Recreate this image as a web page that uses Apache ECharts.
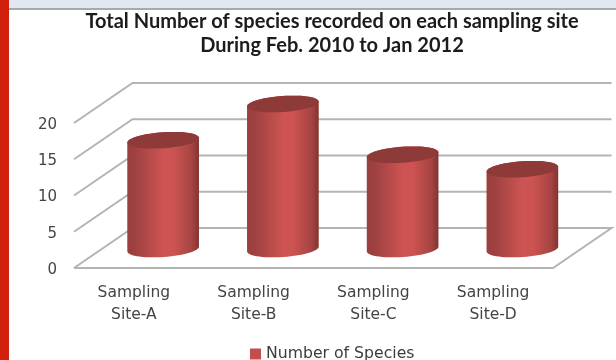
<!DOCTYPE html>
<html>
<head>
<meta charset="utf-8">
<style>html,body{margin:0;padding:0;background:#fff}#chart{width:616px;height:360px}</style>
<script src="https://cdn.jsdelivr.net/npm/echarts@6/dist/echarts.min.js"></script>
</head>
<body>
<div id="chart"></div>
<script>
// Species counts per sampling site
var categories = ['Sampling\nSite-A', 'Sampling\nSite-B', 'Sampling\nSite-C', 'Sampling\nSite-D'];
var speciesCounts = [15, 20, 13, 11];
var gridLevels = [0, 5, 10, 15, 20];
var seriesName = 'Number of Species';
var titleLines = 'Total Number of species recorded on each sampling site\nDuring Feb. 2010 to Jan 2012';

// Oblique projection of the chart box: depth shift of the back wall
var DEPTH_X = 58.5, DEPTH_Y = -40;
var LINE = '#b4b4b4';

// Points of a tilted ellipse between two angles
function ellipseArc(cx, cy, rx, ry, tilt, from, to, n) {
  var pts = [];
  for (var i = 0; i <= n; i++) {
    var a = from + (to - from) * i / n;
    var ex = rx * Math.cos(a), ey = ry * Math.sin(a);
    pts.push([cx + ex * Math.cos(tilt) - ey * Math.sin(tilt),
              cy + ex * Math.sin(tilt) + ey * Math.cos(tilt)]);
  }
  return pts;
}

// Wall and floor lines for one value level
function renderLevel(params, api) {
  var v = api.value(1);
  var g = params.coordSys;
  var y = api.coord([0, v])[1];
  var x0 = g.x, x1 = g.x + g.width;
  var pts = [[x0, y], [x0 + DEPTH_X, y + DEPTH_Y], [x1 + DEPTH_X, y + DEPTH_Y]];
  if (v === 0) pts.push([x1, y], [x0, y]);
  return { type: 'polyline', shape: { points: pts }, style: { stroke: LINE, lineWidth: 2, fill: null } };
}

// One cylinder standing about half way into the depth of the box
function renderCylinder(params, api) {
  var base = api.coord([api.value(0), 0]);
  var top = api.coord([api.value(0), api.value(1)]);
  var bandWidth = api.size([1, 0])[0];
  var rx = bandWidth * 0.3, ry = 8;
  var tilt = -0.07;
  var cx = base[0] + DEPTH_X / 2;
  var by = base[1] + DEPTH_Y * 0.475;
  var ty = top[1] + DEPTH_Y * 0.475;
  var lowEdge = ellipseArc(cx, by, rx, ry, tilt, 0, Math.PI, 30);
  var body = ellipseArc(cx, ty, rx, ry, tilt, Math.PI, 2 * Math.PI, 30).concat(lowEdge);
  var cap = ellipseArc(cx, ty, rx, ry, tilt, 0, 2 * Math.PI, 60);
  return {
    type: 'group',
    children: [
      {
        type: 'polygon', shape: { points: body },
        style: {
          fill: new echarts.graphic.LinearGradient(0, 0, 1, 0, [
            { offset: 0, color: '#9a3f3d' },
            { offset: 0.1, color: '#9c4140' },
            { offset: 0.5, color: '#cd5452' },
            { offset: 0.65, color: '#cc5351' },
            { offset: 0.9, color: '#a54442' },
            { offset: 1, color: '#84332f' }
          ])
        }
      },
      { type: 'polygon', shape: { points: cap }, style: { fill: '#8e3a39' } }
    ]
  };
}

var chart = echarts.init(document.getElementById('chart'), null, { renderer: 'canvas' });
chart.setOption({
  animation: false,
  backgroundColor: '#ffffff',
  title: {
    text: titleLines, left: 327, top: 5, textAlign: 'center',
    textStyle: { fontFamily: 'Lato', fontWeight: 'bold', fontSize: 20, lineHeight: 24, color: '#1c1c1c' }
  },
  legend: {
    data: [seriesName], left: 245, top: 341, icon: 'rect', itemWidth: 11, itemHeight: 11, itemGap: 6,
    textStyle: { fontFamily: 'DejaVu Sans', fontSize: 15.7, color: '#3c3c3c' }
  },
  grid: { left: 74, top: 123, width: 479, height: 145, containLabel: false },
  xAxis: {
    type: 'category', data: categories,
    axisLine: { show: false }, axisTick: { show: false }, splitLine: { show: false },
    axisLabel: { fontFamily: 'DejaVu Sans', fontSize: 15.5, lineHeight: 22, color: '#444444', margin: 14, interval: 0 }
  },
  yAxis: {
    type: 'value', min: 0, max: 20, interval: 5,
    axisLine: { show: false }, axisTick: { show: false }, splitLine: { show: false },
    axisLabel: { fontFamily: 'DejaVu Sans', fontSize: 15, color: '#444444', margin: 17, verticalAlign: 'top', lineHeight: 4 }
  },
  graphic: [
    { type: 'rect', shape: { x: 0, y: 0, width: 616, height: 8 }, style: { fill: '#e1e8f1' }, silent: true },
    { type: 'rect', shape: { x: 0, y: 8, width: 616, height: 2 }, style: { fill: '#a8a9ab' }, silent: true },
    { type: 'rect', shape: { x: 0, y: 0, width: 9, height: 360 }, style: { fill: '#d2200f' }, silent: true }
  ],
  series: [
    {
      type: 'custom', name: 'levels', silent: true, z: 1,
      renderItem: renderLevel,
      data: gridLevels.map(function (v) { return [0, v]; })
    },
    {
      type: 'custom', name: seriesName, silent: true, z: 2,
      itemStyle: { color: '#c0504d' },
      renderItem: renderCylinder,
      encode: { x: 0, y: 1 },
      data: speciesCounts.map(function (v, i) { return [i, v]; })
    }
  ]
});
</script>
</body>
</html>
